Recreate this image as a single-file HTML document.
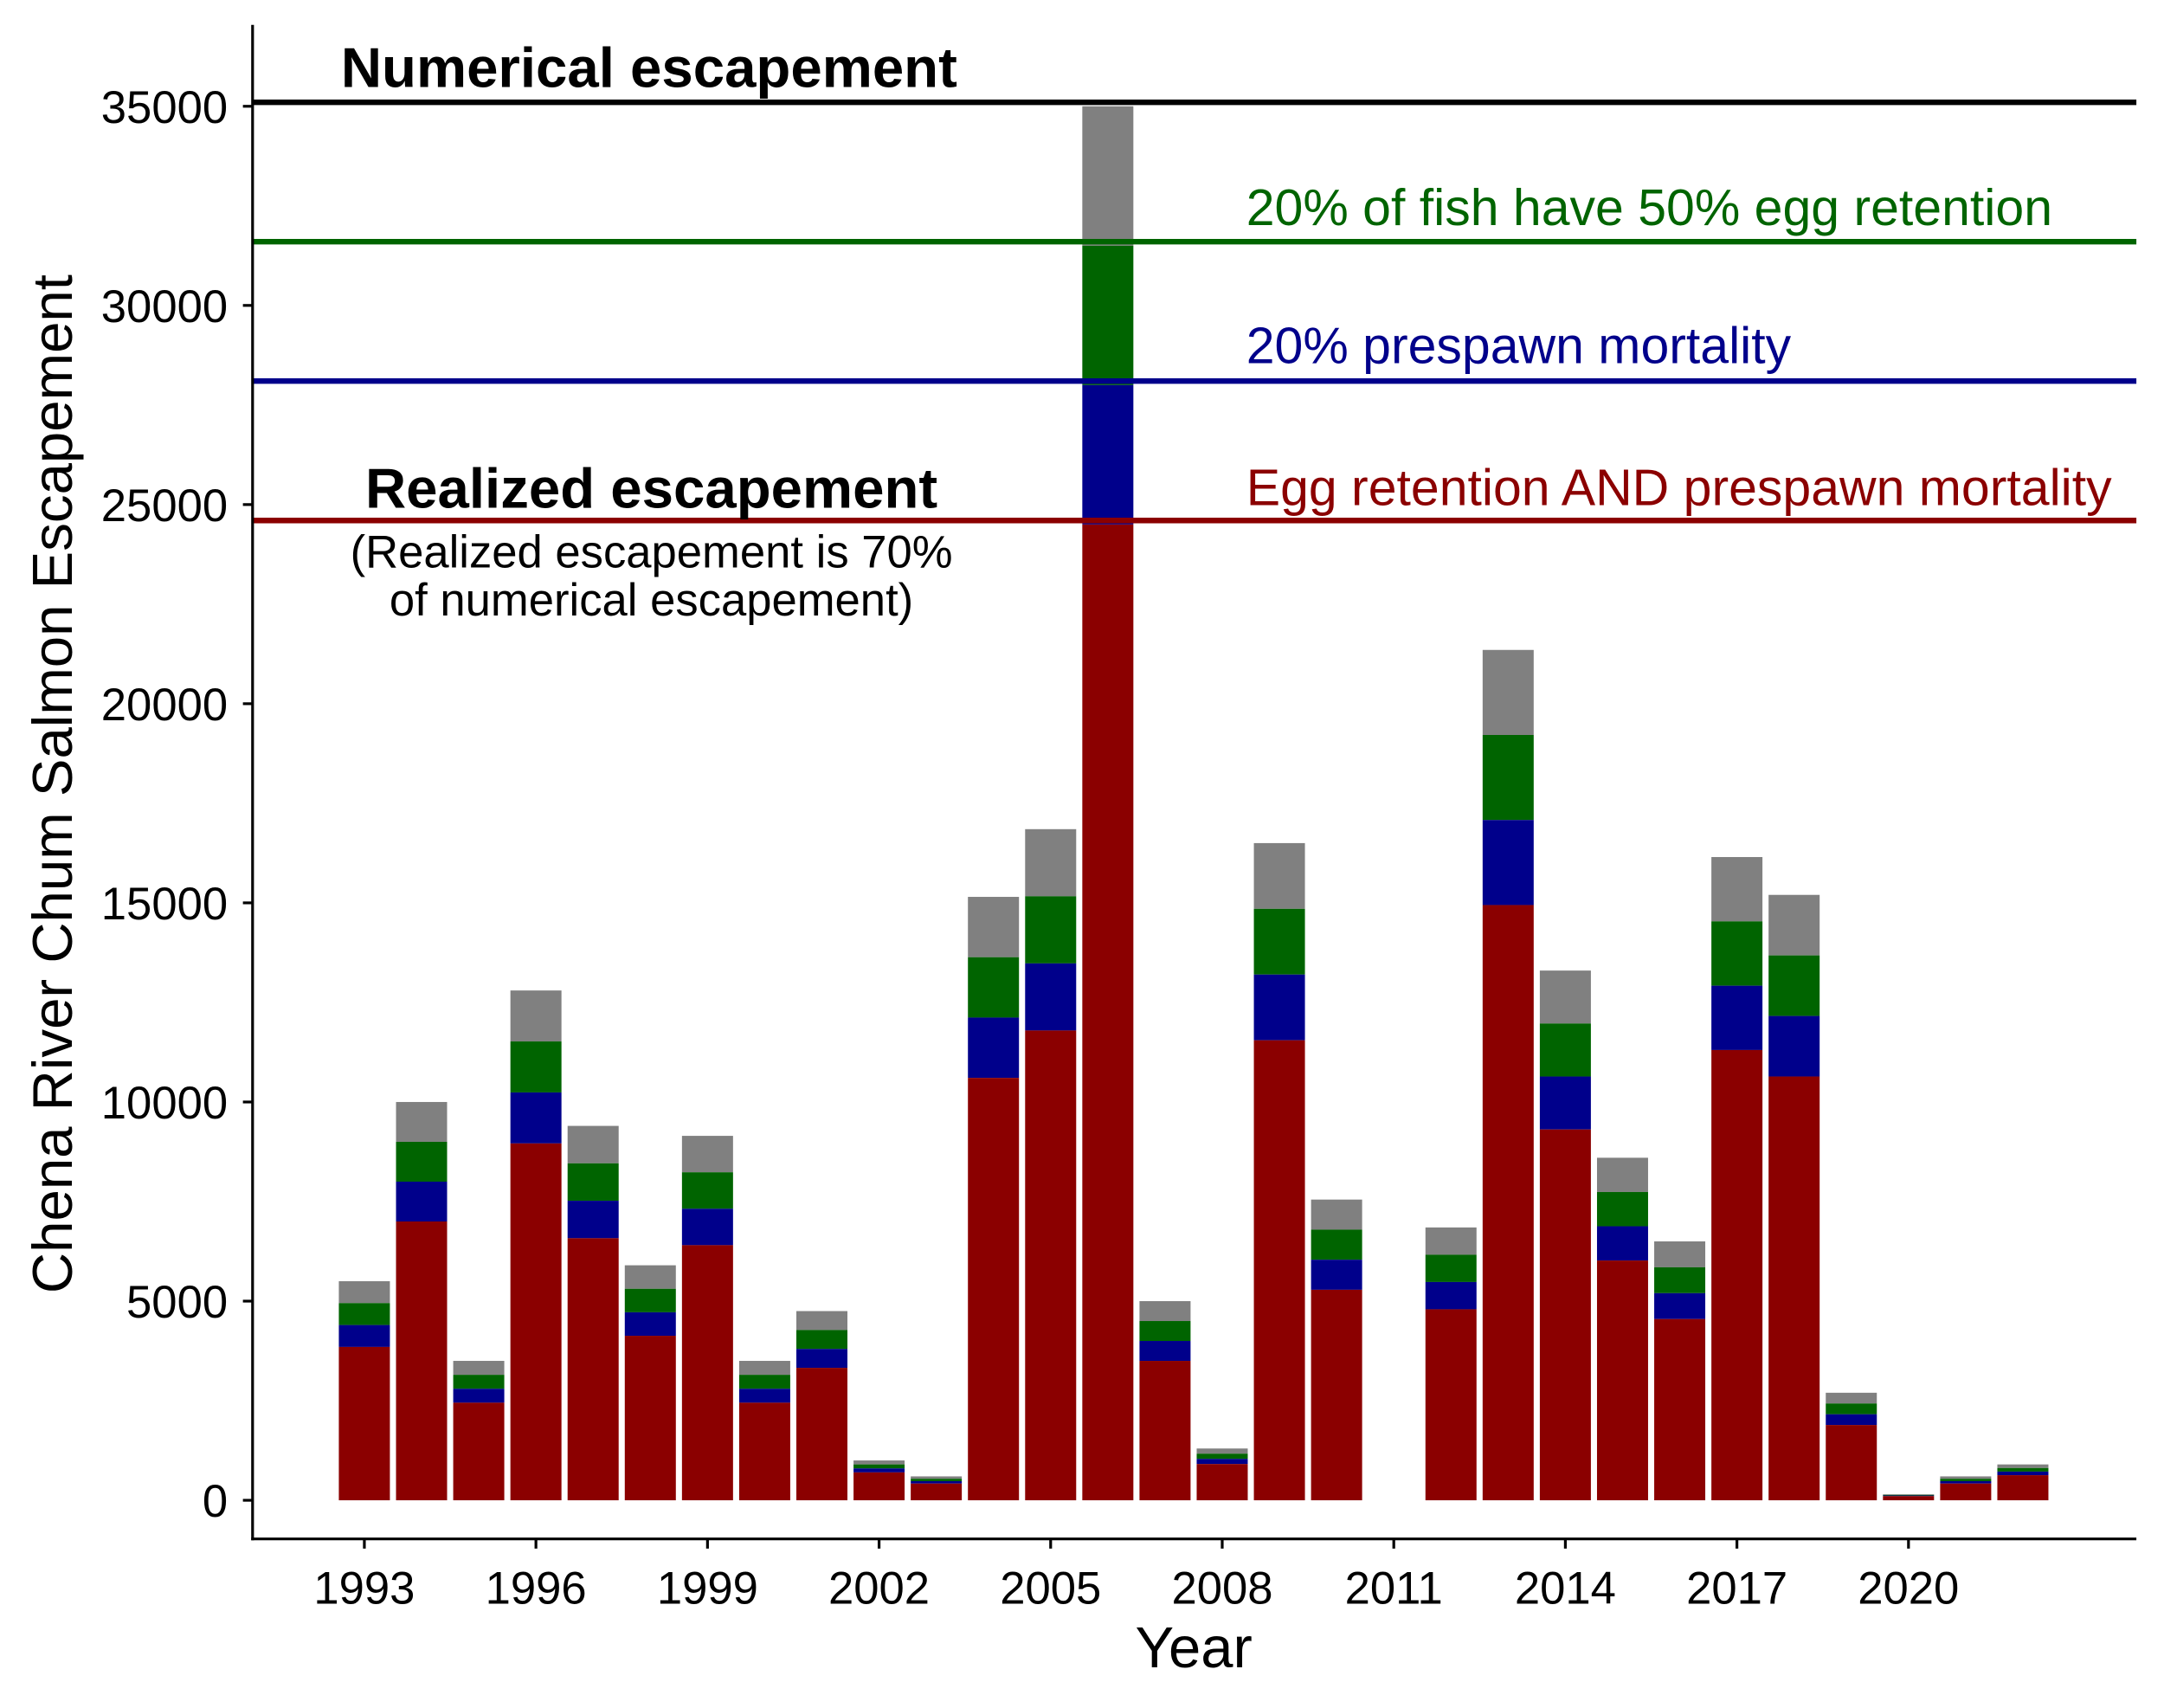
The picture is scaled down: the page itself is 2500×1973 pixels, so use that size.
<!DOCTYPE html>
<html><head><meta charset="utf-8"><style>html,body{margin:0;padding:0;background:#fff}svg{display:block}text{font-family:"Liberation Sans",Arial,sans-serif}</style></head>
<body>
<svg id="chart" xmlns="http://www.w3.org/2000/svg" width="2500" height="1973" viewBox="0 0 1568 1237.5">
<rect width="1568" height="1237.5" fill="#fff"/>
<g id="bars"></g>
<g id="refs"></g>
<g id="axes"></g>
<text x="247" y="63" font-size="41" font-weight="bold" fill="#000">Numerical escapement</text>
<text x="903" y="163" font-size="37" fill="#006400">20% of fish have 50% egg retention</text>
<text x="903" y="263" font-size="37" fill="#00008B">20% prespawn mortality</text>
<text x="903" y="366" font-size="37" fill="#8B0000">Egg retention AND prespawn mortality</text>
<text x="472" y="368" font-size="41" font-weight="bold" text-anchor="middle">Realized escapement</text>
<text x="472" y="411" font-size="33" text-anchor="middle">(Realized escapement is 70%</text>
<text x="472" y="446" font-size="33" text-anchor="middle">of numerical escapement)</text>
<text x="865" y="1208" font-size="42" text-anchor="middle">Year</text>
<text transform="translate(52,568) rotate(-90)" font-size="41" text-anchor="middle">Chena River Chum Salmon Escapement</text>
<script>
const years=[1993,1994,1995,1996,1997,1998,1999,2000,2001,2002,2003,2004,2005,2006,2007,2008,2009,2010,2011,2012,2013,2014,2015,2016,2017,2018,2019,2020,2021,2022];
const totalVals=[5500,10000,3500,12800,9400,5900,9150,3500,4750,1000,600,15150,16850,35000,5000,1300,16500,7550,0,6850,21350,13300,8600,6500,16150,15200,2700,150,600,900];
const eggVals=[4950,9000,3150,11520,8460,5310,8235,3150,4275,900,540,13635,15165,31500,4500,1170,14850,6795,0,6165,19215,11970,7740,5850,14535,13680,2430,135,540,810];
const mortVals=[4400,8000,2800,10240,7520,4720,7320,2800,3800,800,480,12120,13480,28000,4000,1040,13200,6040,0,5480,17080,10640,6880,5200,12920,12160,2160,120,480,720];
const realVals=[3850,7000,2450,8960,6580,4130,6405,2450,3325,700,420,10605,11795,24500,3500,910,11550,5285,0,4795,14945,9310,6020,4550,11305,10640,1890,105,420,630];
const refVals=[35100,31600,28100,24600];
const yTicks=[0,5000,10000,15000,20000,25000,30000,35000];
const xTicks=[1993,1996,1999,2002,2005,2008,2011,2014,2017,2020];
const NS="http://www.w3.org/2000/svg";
const X=yr=>264+(yr-1993)*41.44;
const Y=v=>1087-v*(1010/35000);
function mk(tag,attrs,parent){const e=document.createElementNS(NS,tag);for(const k in attrs)e.setAttribute(k,attrs[k]);parent.appendChild(e);return e;}
const bars=document.getElementById('bars');
const layers=[[totalVals,eggVals,'#808080','bar-total'],[eggVals,mortVals,'#006400','bar-egg-retention'],[mortVals,realVals,'#00008B','bar-prespawn'],[realVals,null,'#8B0000','bar-realized']];
years.forEach((yr,i)=>{layers.forEach(([top,bot,col,name])=>{const t=top[i],b=bot?bot[i]:0;if(t<=b)return;
const r=mk('rect',{x:X(yr)-18.5,y:Y(t),width:37,height:Y(b)-Y(t),fill:col},bars);

});});
const refs=document.getElementById('refs');
const refCols=['#000','#006400','#00008B','#8B0000'];
const refNames=['numerical-line','egg-retention-line','prespawn-line','realized-line'];
refVals.forEach((v,i)=>{const l=mk('line',{x1:183,x2:1548,y1:Y(v),y2:Y(v),stroke:refCols[i],'stroke-width':4},refs);

});
const ax=document.getElementById('axes');
const ya=mk('line',{x1:183,x2:183,y1:18,y2:1116,stroke:'#000','stroke-width':2},ax);


const xa=mk('line',{x1:182,x2:1548,y1:1115,y2:1115,stroke:'#000','stroke-width':2},ax);


yTicks.forEach(v=>{mk('line',{x1:176,x2:183,y1:Y(v),y2:Y(v),stroke:'#000','stroke-width':2},ax);
const t=mk('text',{x:165,y:Y(v)+12,'font-size':33,'text-anchor':'end'},ax);t.textContent=v;

});
xTicks.forEach(v=>{mk('line',{x1:X(v),x2:X(v),y1:1115,y2:1122,stroke:'#000','stroke-width':2},ax);
const t=mk('text',{x:X(v),y:1162,'font-size':33,'text-anchor':'middle'},ax);t.textContent=v;

});
</script>
</svg>
</body></html>
